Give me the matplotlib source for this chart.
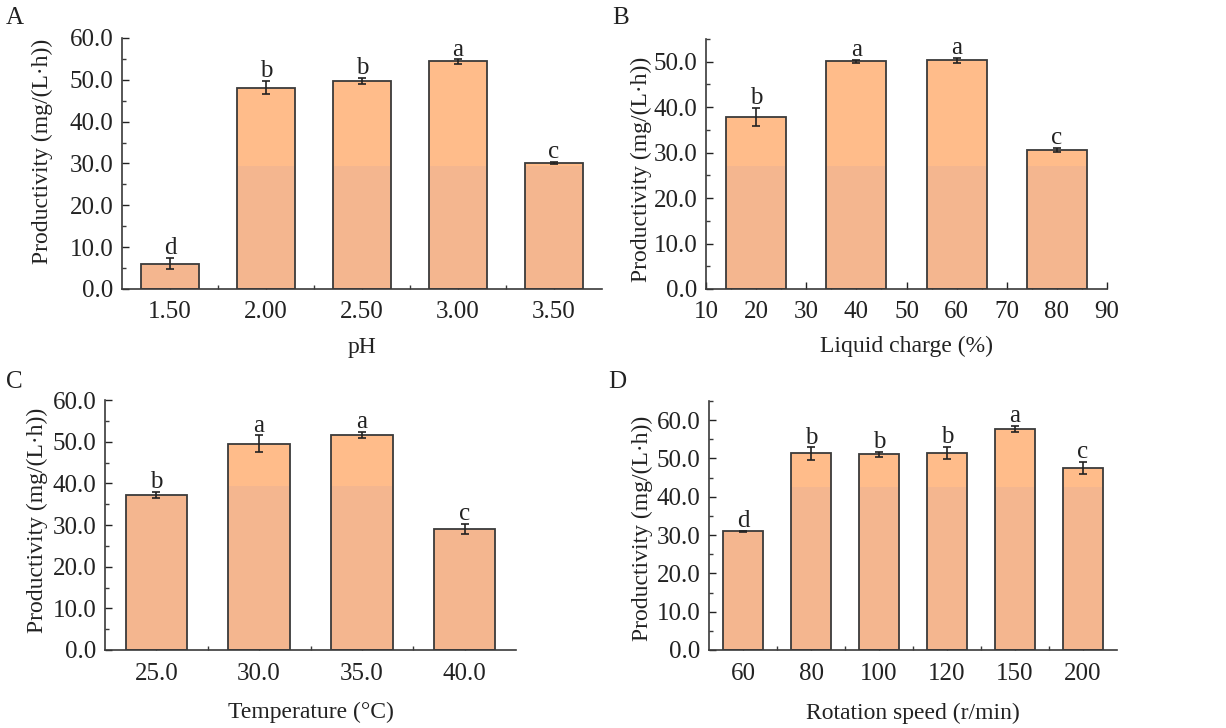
import matplotlib
matplotlib.use("Agg")
import matplotlib.pyplot as plt
from matplotlib.ticker import MultipleLocator, FormatStrFormatter, FixedLocator
import numpy as np

plt.rcParams["font.family"] = ["Liberation Serif", "DejaVu Serif"]

LIGHT = "#FFBC8A"
DARK = "#F4B68F"
EDGE = "#3a3a3a"
INK = "#222222"

# panel A: pH
ph_labels = ["1.50", "2.00", "2.50", "3.00", "3.50"]
ph_vals = [6.05, 48.1, 49.8, 54.4, 30.1]
ph_err = [1.35, 1.6, 0.75, 0.5, 0.3]
ph_sig = ["d", "b", "b", "a", "c"]

# panel B: liquid charge
lc_x = [20, 40, 60, 80]
lc_vals = [37.8, 50.1, 50.3, 30.6]
lc_err = [2.0, 0.3, 0.6, 0.45]
lc_sig = ["b", "a", "a", "c"]

# panel C: temperature
t_labels = ["25.0", "30.0", "35.0", "40.0"]
t_vals = [37.3, 49.5, 51.7, 29.0]
t_err = [0.7, 2.0, 0.7, 1.25]
t_sig = ["b", "a", "a", "c"]

# panel D: rotation speed
rs_labels = ["60", "80", "100", "120", "150", "200"]
rs_vals = [31.0, 51.3, 51.1, 51.4, 57.7, 47.5]
rs_err = [0.15, 1.6, 0.7, 1.65, 0.9, 1.55]
rs_sig = ["d", "b", "b", "b", "a", "c"]

W, H = 1226, 728
fig = plt.figure(figsize=(W / 100, H / 100), dpi=100)


def px_axes(l, r, b, t):
    return fig.add_axes([l / W, 1 - b / H, (r - l) / W, (b - t) / H])


def draw_bars(ax, x, vals, err, sig, width, split):
    vals = np.asarray(vals)
    ax.bar(x, vals, width, color=LIGHT, edgecolor="none", zorder=2)
    ax.bar(x, np.minimum(vals, split), width, color=DARK, edgecolor="none", zorder=2)
    ax.bar(x, vals, width, fill=False, edgecolor=EDGE, lw=1.3, zorder=3)
    ax.errorbar(x, vals, yerr=err, fmt="none", ecolor=INK, elinewidth=1.2,
                capsize=3, capthick=1.2, zorder=4)
    for xi, v, e, s in zip(x, vals, err, sig):
        ax.annotate(s, (xi, v + e), xytext=(0, -1), textcoords="offset points",
                    ha="center", va="bottom", fontsize=18, color=INK)


def style(ax, ylim, ystep, xlabel, ylab_x, ylab_y, xlab_y):
    ax.set_ylim(*ylim)
    ax.yaxis.set_major_locator(MultipleLocator(ystep))
    ax.yaxis.set_minor_locator(MultipleLocator(ystep / 2))
    ax.yaxis.set_major_formatter(FormatStrFormatter("%.1f"))
    for s in ["top", "right"]:
        ax.spines[s].set_visible(False)
    for s in ["left", "bottom"]:
        ax.spines[s].set_color(EDGE)
        ax.spines[s].set_linewidth(1.2)
    ax.tick_params(which="both", direction="in", color=EDGE, width=1.0)
    ax.tick_params(which="major", length=5, labelsize=18, colors=INK)
    ax.tick_params(which="minor", length=3)
    ax.tick_params(axis="x", which="major", pad=9)
    ax.tick_params(axis="y", which="major", pad=6)
    ax.set_ylabel("Productivity (mg/(L·h))", fontsize=17, color=INK)
    ax.set_xlabel(xlabel, fontsize=17, color=INK)
    ax.yaxis.set_label_coords(ylab_x, ylab_y)
    ax.xaxis.set_label_coords(0.5, xlab_y)
    ax.xaxis.label.set_va("center")


def categorical(ax, labels):
    n = len(labels)
    ax.set_xlim(-0.5, n - 0.5)
    ax.set_xticks(np.arange(n))
    ax.set_xticklabels(labels)
    ax.xaxis.set_minor_locator(FixedLocator(np.arange(n - 1) + 0.5))


# A
axA = px_axes(122, 602, 289, 38)
draw_bars(axA, np.arange(len(ph_vals)), ph_vals, ph_err, ph_sig, 0.6, 29.5)
categorical(axA, ph_labels)
style(axA, (0, 60), 10, "pH", -0.143, 0.55, -0.235)

# B
axB = px_axes(706, 1107, 289, 39)
draw_bars(axB, lc_x, lc_vals, lc_err, lc_sig, 12, 27.0)
axB.set_xlim(10, 90)
axB.xaxis.set_major_locator(MultipleLocator(10))
axB.xaxis.set_minor_locator(MultipleLocator(5))
style(axB, (0, 55), 10, "Liquid charge (%)", -0.135, 0.48, -0.228)

# C
axC = px_axes(105, 516, 650, 400)
draw_bars(axC, np.arange(len(t_vals)), t_vals, t_err, t_sig, 0.6, 39.4)
categorical(axC, t_labels)
style(axC, (0, 60), 10, "Temperature (°C)", -0.139, 0.52, -0.25)

# D
axD = px_axes(709, 1117, 650, 401)
draw_bars(axD, np.arange(len(rs_vals)), rs_vals, rs_err, rs_sig, 0.6, 42.6)
categorical(axD, rs_labels)
style(axD, (0, 65), 10, "Rotation speed (r/min)", -0.137, 0.487, -0.255)

for lab, (x, y) in zip("ABCD", [(6, 18), (612, 18), (6, 382), (608, 382)]):
    fig.text(x / W, 1 - y / H, lab, fontsize=18, color=INK, ha="left", va="center")

fig.savefig("out.png", dpi=100, facecolor="white")
plt.close(fig)
